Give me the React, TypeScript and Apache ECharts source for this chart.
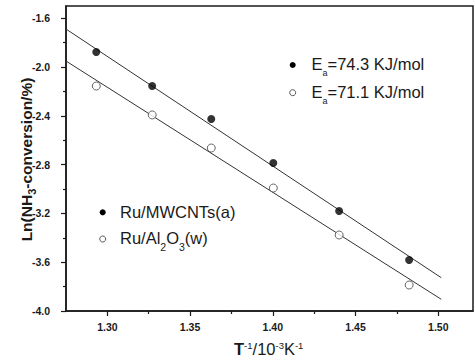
import React, { useEffect, useRef } from 'react';
import * as echarts from 'echarts';

const xMin = 1.275;
const xMax = 1.521;
const yMin = -4.0;
const yMax = -1.5;
const xMajorTicks = [1.3, 1.35, 1.4, 1.45, 1.5];
const xMinorTicks = [1.325, 1.375, 1.425, 1.475];
const yMajorTicks = [-4.0, -3.6, -3.2, -2.8, -2.4, -2.0, -1.6];
const yMinorTicks = [-3.8, -3.4, -3.0, -2.6, -2.2, -1.8];

const invT = [1.2933, 1.3271, 1.3628, 1.4003, 1.4401, 1.4824];
const lnMWCNT = [-1.877, -2.156, -2.426, -2.787, -3.18, -3.582];
const lnAl2O3 = [-2.156, -2.393, -2.664, -2.992, -3.377, -3.787];
const fitX = [1.275, 1.5018];
const fitMWCNT = [-1.689, -3.727];
const fitAl2O3 = [-1.951, -3.904];

const FONT = '"Liberation Sans", Arial, sans-serif';
const INK = '#1a1a1a';

export default function App() {
  const ref = useRef<HTMLDivElement>(null);
  useEffect(() => {
    document.body.style.margin = '0';
    if (!ref.current) return;
    const chart = echarts.init(ref.current, null, { renderer: 'svg' });
    const grid = { left: 66, right: 2, top: 6, bottom: 50 };
    const pairs = (xs: number[], ys: number[]) => xs.map((x, i) => [x, ys[i]]);
    const fmt1 = (v: number) => v.toFixed(1);
    const fmt2 = (v: number) => v.toFixed(2);
    const option: any = {
      animation: false,
      backgroundColor: '#fff',
      grid: [
        { ...grid, show: true, borderColor: INK, borderWidth: 1.5, backgroundColor: 'transparent' },
        { ...grid },
      ],
      xAxis: [
        {
          type: 'value', gridIndex: 0, min: xMin, max: xMax,
          axisLine: { show: true, lineStyle: { color: INK, width: 1.5 } },
          axisTick: { show: true, length: 5, customValues: xMajorTicks, lineStyle: { color: INK, width: 1.2 } },
          axisLabel: {
            customValues: xMajorTicks, formatter: fmt2, margin: 10,
            fontSize: 10.5, fontWeight: 'bold', fontFamily: FONT, color: INK,
          },
          splitLine: { show: false },
        },
        {
          type: 'value', gridIndex: 1, min: xMin, max: xMax,
          axisLine: { show: false },
          axisTick: { show: true, length: 3, customValues: xMinorTicks, lineStyle: { color: INK, width: 1.2 } },
          axisLabel: { show: false },
          splitLine: { show: false },
        },
      ],
      yAxis: [
        {
          type: 'value', gridIndex: 0, min: yMin, max: yMax,
          axisLine: { show: true, lineStyle: { color: INK, width: 1.5 } },
          axisTick: { show: true, length: 5, customValues: yMajorTicks, lineStyle: { color: INK, width: 1.2 } },
          axisLabel: {
            customValues: yMajorTicks, formatter: fmt1, margin: 16,
            fontSize: 10.5, fontWeight: 'bold', fontFamily: FONT, color: INK,
          },
          splitLine: { show: false },
        },
        {
          type: 'value', gridIndex: 1, min: yMin, max: yMax,
          axisLine: { show: false },
          axisTick: { show: true, length: 3, customValues: yMinorTicks, lineStyle: { color: INK, width: 1.2 } },
          axisLabel: { show: false },
          splitLine: { show: false },
        },
      ],
      series: [
        {
          type: 'line', data: pairs(fitX, fitMWCNT), symbol: 'none', silent: true,
          lineStyle: { color: '#333', width: 1 }, z: 2,
        },
        {
          type: 'line', data: pairs(fitX, fitAl2O3), symbol: 'none', silent: true,
          lineStyle: { color: '#333', width: 1 }, z: 2,
        },
        {
          name: 'Ru/MWCNTs(a)', type: 'scatter', data: pairs(invT, lnMWCNT), symbol: 'circle', symbolSize: 8,
          itemStyle: { color: '#000' }, z: 3,
        },
        {
          name: 'Ru/Al2O3(w)', type: 'scatter', data: pairs(invT, lnAl2O3), symbol: 'circle', symbolSize: 8,
          itemStyle: { color: '#fff', borderColor: '#444', borderWidth: 1 }, z: 3,
        },
      ],
      graphic: [
        // Ea legend
        { type: 'circle', shape: { cx: 292.7, cy: 65, r: 3 }, style: { fill: '#000' } },
        {
          type: 'text', x: 311.5, y: 63.5,
          style: {
            text: '{m|E}{s|a}{m|=74.3 KJ/mol}', align: 'left', verticalAlign: 'middle', fill: INK,
            rich: {
              m: { fontSize: 16.5, fontFamily: FONT, fill: INK },
              s: { fontSize: 9, fontFamily: FONT, fill: INK, padding: [19, 0, 0, 0] },
            },
          },
        },
        { type: 'circle', shape: { cx: 292.7, cy: 92.7, r: 3 }, style: { fill: '#fff', stroke: '#555', lineWidth: 1 } },
        {
          type: 'text', x: 311.5, y: 91.5,
          style: {
            text: '{m|E}{s|a}{m|=71.1 KJ/mol}', align: 'left', verticalAlign: 'middle', fill: INK,
            rich: {
              m: { fontSize: 16.5, fontFamily: FONT, fill: INK },
              s: { fontSize: 9, fontFamily: FONT, fill: INK, padding: [19, 0, 0, 0] },
            },
          },
        },
        // sample legend
        { type: 'circle', shape: { cx: 102.7, cy: 212.3, r: 3 }, style: { fill: '#000' } },
        {
          type: 'text', x: 120, y: 211.5,
          style: {
            text: '{m|Ru/MWCNTs(a)}', align: 'left', verticalAlign: 'middle', fill: INK,
            rich: { m: { fontSize: 16.5, fontFamily: FONT, fill: INK } },
          },
        },
        { type: 'circle', shape: { cx: 102.7, cy: 239, r: 3 }, style: { fill: '#fff', stroke: '#555', lineWidth: 1 } },
        {
          type: 'text', x: 120, y: 238,
          style: {
            text: '{m|Ru/Al}{s|2}{m|O}{s|3}{m|(w)}', align: 'left', verticalAlign: 'middle', fill: INK,
            rich: {
              m: { fontSize: 16.5, fontFamily: FONT, fill: INK },
              s: { fontSize: 10.5, fontFamily: FONT, fill: INK, padding: [18, 0, 0, 0] },
            },
          },
        },
        // axis titles
        {
          type: 'text', x: 268.7, y: 348.5,
          style: {
            text: '{b|T}{p|-1}{r|/10}{p|-3}{r|K}{p|-1}', align: 'center', verticalAlign: 'middle', fill: INK,
            rich: {
              b: { fontSize: 16.5, fontWeight: 'bold', fontFamily: FONT, fill: INK },
              r: { fontSize: 16.5, fontFamily: FONT, fill: INK },
              p: { fontSize: 9.5, fontFamily: FONT, fill: INK, padding: [0, 0, 7, 0] },
            },
          },
        },
        {
          type: 'text', x: 26, y: 159.5, rotation: Math.PI / 2,
          style: {
            text: '{b|Ln(NH}{s|3}{b|-conversion/%)}', align: 'center', verticalAlign: 'middle', fill: INK,
            rich: {
              b: { fontSize: 15.5, fontWeight: 'bold', fontFamily: FONT, fill: INK },
              s: { fontSize: 11, fontWeight: 'bold', fontFamily: FONT, fill: INK, padding: [12, 0, 0, 0] },
            },
          },
        },
      ],
    };
    chart.setOption(option);
    return () => chart.dispose();
  }, []);
  return <div ref={ref} style={{ width: 475, height: 361 }} />;
}
